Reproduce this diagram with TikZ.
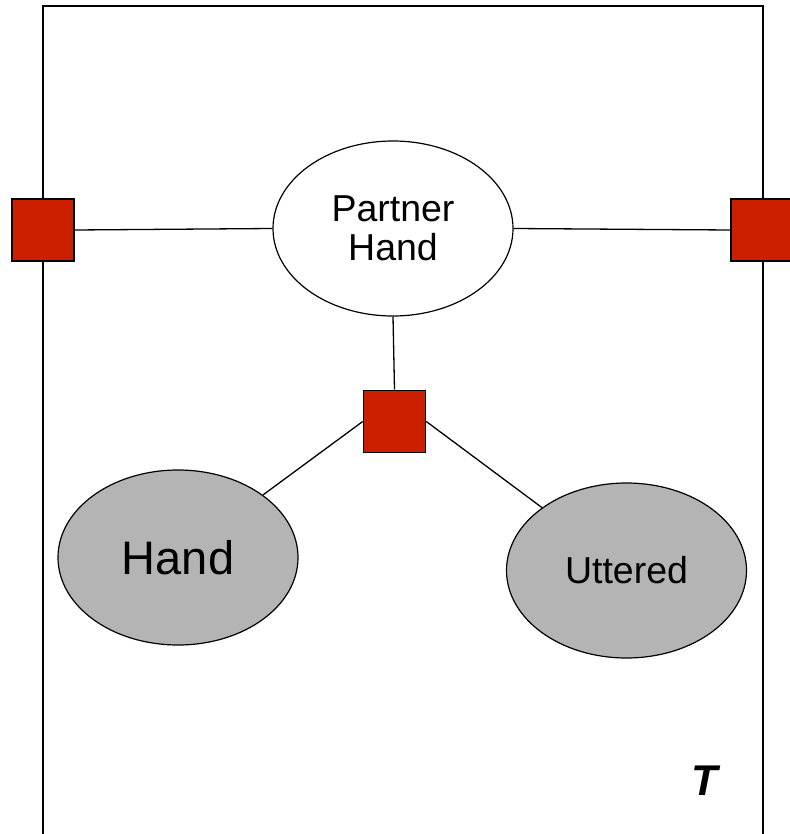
\documentclass[tikz,border=0pt]{standalone}
\usepackage{fontspec}
\setmainfont{Liberation Sans}
\usetikzlibrary{shapes.geometric}
\definecolor{factred}{RGB}{204,31,0}
\definecolor{obsgray}{RGB}{180,180,180}
\begin{document}
\begin{tikzpicture}[x=1pt,y=-1pt,
  factor/.style={draw=black,line width=1.6pt,fill=factred,minimum size=62pt,inner sep=0pt},
  latent/.style={draw=black,line width=1.2pt,fill=white,ellipse,minimum width=240pt,minimum height=175pt,inner sep=0pt,align=center},
  observed/.style={latent,fill=obsgray},
  edge/.style={line width=1.3pt}]
\useasboundingbox (0,0) rectangle (789,834);
\draw[line width=1.3pt] (43,900) -- (43,6) -- (763,6) -- (763,900);
\node[latent,font=\fontsize{37.5}{39}\selectfont] (ph) at (393,228.5) {Partner\\Hand};
\node[observed,font=\fontsize{47}{50}\selectfont] (hand) at (178,557.5) {Hand};
\node[observed,font=\fontsize{37.5}{40}\selectfont] (utt) at (626.5,570.5) {Uttered};
\node[factor] (fl) at (43,230) {};
\node[factor] (fr) at (762,230) {};
\node[factor] (fm) at (394.5,421.5) {};
\node[font=\fontsize{43}{46}\selectfont\bfseries\itshape] (T) at (705,781) {T};
\draw[edge] (fl.east) -- (ph.west);
\draw[edge] (ph.east) -- (fr.west);
\draw[edge] (ph.south) -- (fm.north);
\draw[edge] (fm.west) -- (hand);
\draw[edge] (fm.east) -- (utt);
\end{tikzpicture}
\end{document}
